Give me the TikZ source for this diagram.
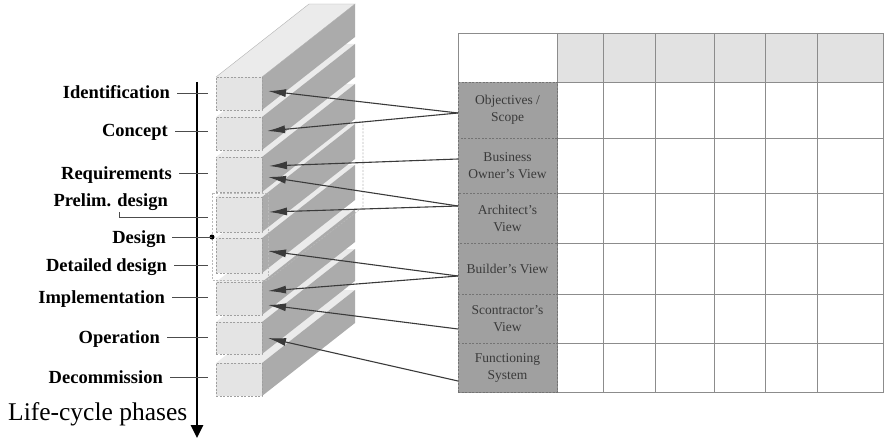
\documentclass[tikz,border=0pt]{standalone}
\usepackage{fontspec}
\setmainfont{Liberation Serif}
\usetikzlibrary{arrows.meta}

\definecolor{facegray}{HTML}{E4E4E4}
\definecolor{topgray}{HTML}{EBEBEB}
\definecolor{sidegray}{HTML}{ABABAB}
\definecolor{headgray}{HTML}{E2E2E2}
\definecolor{viewgray}{HTML}{A0A0A0}
\definecolor{inkgray}{HTML}{3A3A3A}

\begin{document}
\begin{tikzpicture}[x=1pt, y=-1pt,
    front/.style={draw=gray!75, dash pattern=on 2pt off 1.5pt, line width=0.5pt,
      fill=facegray, inner sep=0pt, outer sep=0pt, minimum width=46pt},
    envelope/.style={draw=gray!55, dash pattern=on 2pt off 1.5pt, line width=0.6pt},
    phase/.style={anchor=east, inner sep=0pt, text height=12pt, text depth=0pt,
      font=\bfseries\fontsize{18.5}{20}\selectfont},
    tick/.style={draw=black!70, line width=0.6pt},
    axis/.style={line width=2.8pt, -{Triangle[length=13pt,width=12pt]}},
    view/.style={draw=black!55, dash pattern=on 2pt off 1.5pt, line width=0.5pt,
      fill=viewgray, minimum width=99pt, inner sep=1pt, outer sep=0pt,
      align=center, text=inkgray, font=\fontsize{13.5}{17}\selectfont},
    grid/.style={draw=black!45, line width=0.5pt},
    link/.style={draw=inkgray, line width=1.1pt, -{Latex[length=18pt,width=8pt]}}]

  \useasboundingbox (0,0) rectangle (884,441);

  % Slabs (bottom first, so each one hides the top of the one below)
  \foreach \n/\t/\b in {decom/363/396, oper/322/354, impl/282/315, design/238/273,
                        prelim/197/232, req/157/192, concept/117/150, ident/77/110} {
    \fill[topgray] (216,\t) -- (262,\t) -- (355,{\t-73}) -- (309,{\t-73}) -- cycle;
    \fill[sidegray] (262,\t) -- (355,{\t-73}) -- (355,{\b-73}) -- (262,\b) -- cycle;
    \node[front, minimum height={\b-\t}] (\n) at (239,{(\t+\b)/2}) {};
  }
  \draw[gray!60, line width=0.4pt] (216,77) -- (309,4) -- (355,4) -- (262,77);

  % Design envelope
  \draw[envelope] (212,193) rectangle (268,280);
  \draw[envelope] (355,122) -- (363,122) -- (363,207) -- (268,280);
  \coordinate (design-dot) at (212,237);
  \fill (design-dot) circle (2.5pt);

  % Phases
  \coordinate (axis-top) at (197,82);
  \coordinate (axis-end) at (197,438);
  \coordinate (tickend) at (208,0);
  \draw[axis] (axis-top) -- (axis-end);

  \node[phase] (l-ident) at (170,93) {Identification};
  \node[phase] (l-concept) at (168,131) {Concept};
  \node[phase] (l-req) at (172,173) {Requirements};
  \node[phase] (l-prelim) at (168,201) {Prelim. design};
  \node[phase] (l-design) at (166,237) {Design};
  \node[phase] (l-detail) at (167,265) {Detailed design};
  \node[phase] (l-impl) at (165,297) {Implementation};
  \node[phase] (l-oper) at (160,337) {Operation};
  \node[phase] (l-decom) at (163,377) {Decommission};

  \foreach \l in {l-ident, l-concept, l-req, l-detail, l-impl, l-oper, l-decom}
    \draw[tick] ([xshift=7pt]\l.east) -- (\l.east -| tickend);
  \draw[tick] ([xshift=6pt]l-design.east) -- (design-dot);
  \draw[tick] ([xshift=9pt,yshift=-5pt]l-prelim.south) |- ([yshift=-2.5pt]tickend |- prelim);

  \node[anchor=base west, inner sep=0pt, font=\fontsize{25.5}{28}\selectfont]
    (lc-title) at (8,420) {Life-cycle phases};

  % Table
  \fill[headgray] (557,33) rectangle (884,82);
  \foreach \y in {82,138,193,243,294,343}
    \draw[grid] (557,\y) -- (884,\y);
  \foreach \x in {557,603,655,714,765,817}
    \draw[grid] (\x,33) -- (\x,392);
  \draw[grid] (458,33) rectangle (883.5,392);

  \node[view, minimum height=56pt] (scope) at (507.5,110) {Objectives /\\Scope};
  \node[view, minimum height=55pt] (owner) at (507.5,165.5) {Business\\Owner's View};
  \node[view, minimum height=50pt] (arch) at (507.5,218) {Architect's\\View};
  \node[view, minimum height=51pt] (builder) at (507.5,268.5) {Builder's View};
  \node[view, minimum height=49pt] (scontr) at (507.5,318.5) {Scontractor's\\View};
  \node[view, minimum height=49pt] (system) at (507.5,367.5) {Functioning\\System};

  % Links
  \draw[link] ([yshift=-3pt]scope.west) -- ([xshift=6pt,yshift=2.5pt]ident.east);
  \draw[link] ([yshift=-3pt]scope.west) -- ([xshift=5pt,yshift=2.5pt]concept.east);
  \draw[link] ([yshift=6.5pt]owner.west) -- ([xshift=7pt,yshift=8.5pt]req.east);
  \draw[link] ([yshift=12pt]arch.west) -- ([xshift=6pt,yshift=-2.5pt]req.east);
  \draw[link] ([yshift=12pt]arch.west) -- ([xshift=7pt,yshift=2.5pt]prelim.east);
  \draw[link] ([yshift=-7.5pt]builder.west) -- ([xshift=6pt,yshift=4.5pt]design.east);
  \draw[link] ([yshift=-7.5pt]builder.west) -- ([xshift=6pt,yshift=7.5pt]impl.east);
  \draw[link] ([yshift=-10.5pt]scontr.west) -- ([xshift=6pt,yshift=-6.5pt]impl.east);
  \draw[link] ([yshift=-13.5pt]system.west) -- ([xshift=6pt]oper.east);

\end{tikzpicture}
\end{document}
